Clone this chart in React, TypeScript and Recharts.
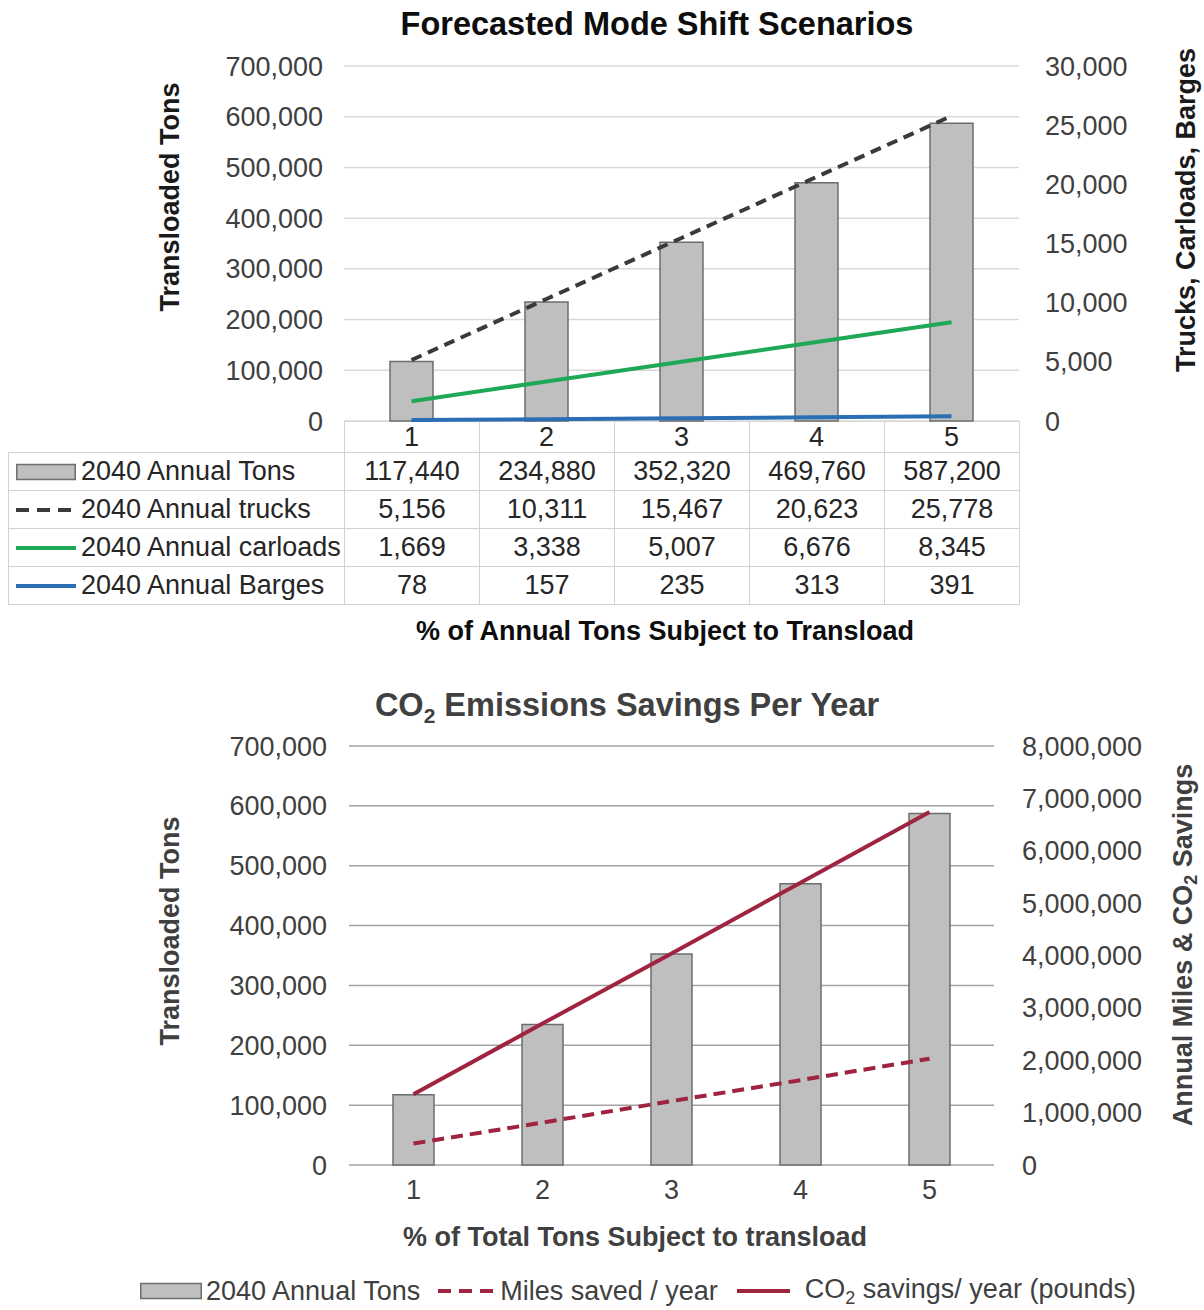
import React from "react";
import { ComposedChart, Bar, Line, XAxis, YAxis, CartesianGrid } from "recharts";

// scenario = % of tons subject to transload
const scenarios = ["1", "2", "3", "4", "5"];
const annualTons = [117440, 234880, 352320, 469760, 587200];
const annualTrucks = [5156, 10311, 15467, 20623, 25778];
const annualCarloads = [1669, 3338, 5007, 6676, 8345];
const annualBarges = [78, 157, 235, 313, 391];
// (right axis)
const milesSaved = [410000, 810000, 1220000, 1620000, 2030000];
const co2Savings = [1350000, 2700000, 4040000, 5390000, 6740000];

const tonsTicks = [0, 100000, 200000, 300000, 400000, 500000, 600000, 700000];
const vehicleTicks = [0, 5000, 10000, 15000, 20000, 25000, 30000];
const savingsTicks = [0, 1000000, 2000000, 3000000, 4000000, 5000000, 6000000, 7000000, 8000000];

const modeData = scenarios.map((s, i) => ({
  scenario: s,
  tons: annualTons[i],
  trucks: annualTrucks[i],
  carloads: annualCarloads[i],
  barges: annualBarges[i],
}));

const co2Data = scenarios.map((s, i) => ({
  scenario: s,
  tons: annualTons[i],
  miles: milesSaved[i],
  co2: co2Savings[i],
}));

const FONT = '"Liberation Sans", Arial, sans-serif';
const fmt = (v: number) => v.toLocaleString("en-US");

const GRAY_BAR = "#bfbfbf";
const TRUCK = "#3a3a3a";
const GREEN = "#1fa855";
const BLUE = "#2a6fb4";
const RED = "#9f2440";

function VLabel({ cx, cy, color, children }: { cx: number; cy: number; color: string; children: React.ReactNode }) {
  return (
    <div
      style={{
        position: "absolute",
        left: cx - 300,
        top: cy - 16,
        width: 600,
        height: 32,
        lineHeight: "32px",
        textAlign: "center",
        transform: "rotate(-90deg)",
        fontWeight: "bold",
        fontSize: 27,
        color,
        whiteSpace: "nowrap",
      }}
    >
      {children}
    </div>
  );
}

function Title({ cx, cy, size, color, children }: { cx: number; cy: number; size: number; color: string; children: React.ReactNode }) {
  return (
    <div
      style={{
        position: "absolute",
        left: cx - 400,
        top: cy - size * 0.6,
        width: 800,
        lineHeight: `${size * 1.2}px`,
        textAlign: "center",
        fontWeight: "bold",
        fontSize: size,
        color,
        whiteSpace: "nowrap",
      }}
    >
      {children}
    </div>
  );
}

function LineKey({ color, dash, width = 60 }: { color: string; dash?: string; width?: number }) {
  return (
    <svg width={width} height={16} style={{ display: "block" }}>
      <line x1={0} y1={8} x2={width} y2={8} stroke={color} strokeWidth={4} strokeDasharray={dash} />
    </svg>
  );
}

function BarKey({ width = 60 }: { width?: number }) {
  return (
    <svg width={width} height={18} style={{ display: "block" }}>
      <rect x={0.75} y={1.5} width={width - 1.5} height={15} fill={GRAY_BAR} stroke="#6d6d6d" strokeWidth={1.5} />
    </svg>
  );
}

const tableRows = [
  { label: "2040 Annual Tons", key: <BarKey />, values: annualTons },
  { label: "2040 Annual trucks", key: <LineKey color={TRUCK} dash="13 8" />, values: annualTrucks },
  { label: "2040 Annual carloads", key: <LineKey color={GREEN} />, values: annualCarloads },
  { label: "2040 Annual Barges", key: <LineKey color={BLUE} />, values: annualBarges },
];

const cellBorder = "1px solid #d2d2d2";

function DataTable() {
  return (
    <table
      style={{
        position: "absolute",
        left: 8,
        top: 421,
        width: 1011,
        borderCollapse: "collapse",
        tableLayout: "fixed",
        fontSize: 27,
        color: "#262626",
      }}
    >
      <colgroup>
        <col style={{ width: 336 }} />
        {scenarios.map((s) => (
          <col key={s} style={{ width: 135 }} />
        ))}
      </colgroup>
      <tbody>
        <tr style={{ height: 31 }}>
          <td style={{ padding: 0, border: "none" }} />
          {scenarios.map((s) => (
            <td key={s} style={{ padding: 0, border: cellBorder }} />
          ))}
        </tr>
        {tableRows.map((r) => (
          <tr key={r.label} style={{ height: 38 }}>
            <td style={{ padding: 0, border: cellBorder }}>
              <div style={{ display: "flex", alignItems: "center", paddingLeft: 7, whiteSpace: "nowrap" }}>
                <span style={{ marginRight: 5 }}>{r.key}</span>
                <span>{r.label}</span>
              </div>
            </td>
            {r.values.map((v, i) => (
              <td key={i} style={{ padding: 0, border: cellBorder, textAlign: "center" }}>
                {fmt(v)}
              </td>
            ))}
          </tr>
        ))}
      </tbody>
    </table>
  );
}

const tickTop = { fontSize: 27, fill: "#404040", fontFamily: FONT };

function ModeShiftChart() {
  return (
    <div style={{ position: "absolute", left: 0, top: 0 }}>
      <ComposedChart width={1204} height={460} data={modeData} margin={{ top: 66, right: 0, bottom: 0, left: 0 }}>
        <CartesianGrid vertical={false} stroke="#d9d9d9" strokeWidth={1.5} yAxisId="tons" />
        <XAxis dataKey="scenario" height={39} axisLine={false} tickLine={false} tickSize={0} tickMargin={6} tick={{ ...tickTop, fill: "#262626" }} />
        <YAxis
          yAxisId="tons"
          width={344}
          domain={[0, 700000]}
          ticks={tonsTicks}
          tickFormatter={fmt}
          axisLine={false}
          tickLine={false}
          tickSize={0}
          tickMargin={21}
          tick={tickTop}
        />
        <YAxis
          yAxisId="vehicles"
          orientation="right"
          width={185}
          domain={[0, 30000]}
          ticks={vehicleTicks}
          tickFormatter={fmt}
          axisLine={false}
          tickLine={false}
          tickSize={0}
          tickMargin={26}
          tick={tickTop}
        />
        <Bar yAxisId="tons" dataKey="tons" barSize={43} fill={GRAY_BAR} stroke="#6d6d6d" strokeWidth={1.5} isAnimationActive={false} />
        <Line yAxisId="vehicles" dataKey="trucks" stroke={TRUCK} strokeWidth={4} strokeDasharray="11 7" dot={false} isAnimationActive={false} />
        <Line yAxisId="vehicles" dataKey="carloads" stroke={GREEN} strokeWidth={4} dot={false} isAnimationActive={false} />
        <Line yAxisId="vehicles" dataKey="barges" stroke={BLUE} strokeWidth={4} dot={false} isAnimationActive={false} />
      </ComposedChart>
    </div>
  );
}

function Co2Chart() {
  return (
    <div style={{ position: "absolute", left: 0, top: 680 }}>
      <ComposedChart width={1204} height={540} data={co2Data} margin={{ top: 66, right: 0, bottom: 0, left: 0 }}>
        <CartesianGrid vertical={false} stroke="#a3a3a3" strokeWidth={1.5} yAxisId="tons" />
        <XAxis dataKey="scenario" height={55} axisLine={false} tickLine={false} tickSize={0} tickMargin={15} tick={tickTop} />
        <YAxis
          yAxisId="tons"
          width={349}
          domain={[0, 700000]}
          ticks={tonsTicks}
          tickFormatter={fmt}
          axisLine={false}
          tickLine={false}
          tickSize={0}
          tickMargin={22}
          tick={tickTop}
        />
        <YAxis
          yAxisId="savings"
          orientation="right"
          width={210}
          domain={[0, 8000000]}
          ticks={savingsTicks}
          tickFormatter={fmt}
          axisLine={false}
          tickLine={false}
          tickSize={0}
          tickMargin={28}
          tick={tickTop}
        />
        <Bar yAxisId="tons" dataKey="tons" barSize={41} fill={GRAY_BAR} stroke="#6d6d6d" strokeWidth={1.5} isAnimationActive={false} />
        <Line yAxisId="savings" dataKey="miles" stroke={RED} strokeWidth={4} strokeDasharray="12 7" dot={false} isAnimationActive={false} />
        <Line yAxisId="savings" dataKey="co2" stroke={RED} strokeWidth={4} dot={false} isAnimationActive={false} />
      </ComposedChart>
    </div>
  );
}

function Co2Legend() {
  const item: React.CSSProperties = { display: "flex", alignItems: "center", whiteSpace: "nowrap" };
  return (
    <div
      style={{
        position: "absolute",
        left: 140,
        top: 1274,
        height: 34,
        display: "flex",
        alignItems: "center",
        fontSize: 27,
        color: "#404040",
      }}
    >
      <div style={item}>
        <span style={{ marginRight: 4 }}><BarKey width={62} /></span>
        <span>2040 Annual Tons</span>
      </div>
      <div style={{ ...item, marginLeft: 18 }}>
        <span style={{ marginRight: 7 }}><LineKey color={RED} dash="13 8" width={55} /></span>
        <span>Miles saved / year</span>
      </div>
      <div style={{ ...item, marginLeft: 19 }}>
        <span style={{ marginRight: 15 }}><LineKey color={RED} width={53} /></span>
        <span>
          CO<sub style={{ fontSize: 18, verticalAlign: "-6px" }}>2</sub> savings/ year (pounds)
        </span>
      </div>
    </div>
  );
}

export default function App() {
  return (
    <div
      style={{
        position: "absolute",
        left: 0,
        top: 0,
        width: 1204,
        height: 1310,
        background: "#ffffff",
        fontFamily: FONT,
        overflow: "hidden",
      }}
    >
      <Title cx={657} cy={24} size={32.5} color="#0d0d0d">Forecasted Mode Shift Scenarios</Title>
      <DataTable />
      <ModeShiftChart />
      <VLabel cx={170} cy={197} color="#1a1a1a">Transloaded Tons</VLabel>
      <VLabel cx={1186} cy={210} color="#1a1a1a">Trucks, Carloads, Barges</VLabel>
      <Title cx={665} cy={631} size={27} color="#0d0d0d">% of Annual Tons Subject to Transload</Title>

      <Title cx={627} cy={705} size={32.5} color="#404040">
        CO<sub style={{ fontSize: 21, verticalAlign: "-7px" }}>2</sub> Emissions Savings Per Year
      </Title>
      <Co2Chart />
      <VLabel cx={170} cy={931} color="#404040">Transloaded Tons</VLabel>
      <VLabel cx={1183} cy={945} color="#404040">
        Annual Miles &amp; CO<sub style={{ fontSize: 18, verticalAlign: "-5px" }}>2</sub> Savings
      </VLabel>
      <Title cx={635} cy={1237} size={27} color="#404040">% of Total Tons Subject to transload</Title>
      <Co2Legend />
    </div>
  );
}
